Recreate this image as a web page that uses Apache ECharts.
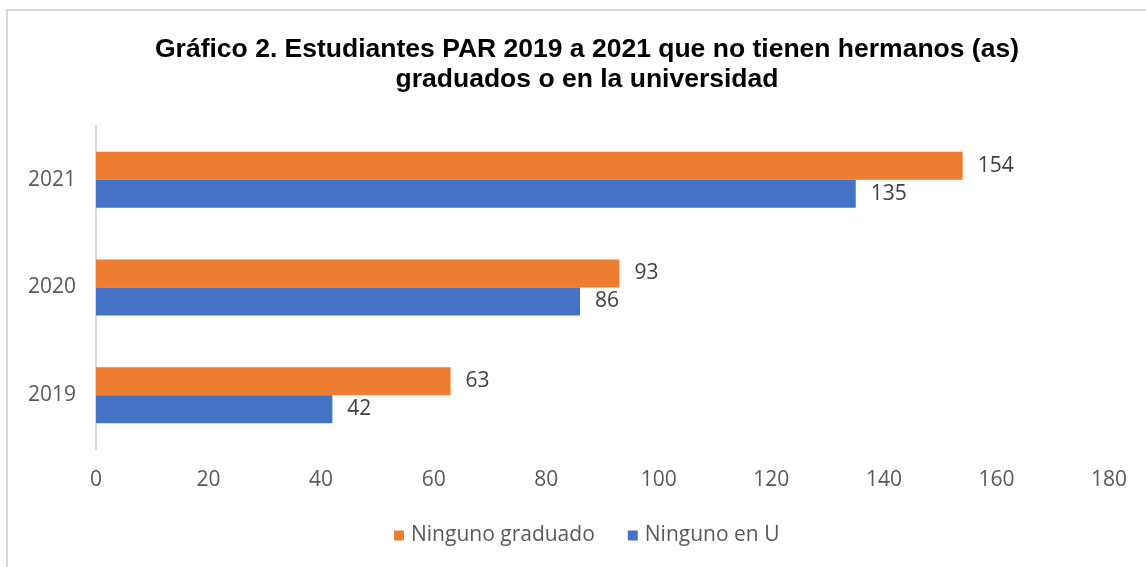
<!DOCTYPE html>
<html>
<head>
<meta charset="utf-8">
<script src="https://cdn.jsdelivr.net/npm/echarts@6/dist/echarts.min.js"></script>
<style>
  html, body { margin: 0; padding: 0; background: #fff; }
  #chartPar { width: 1146px; height: 567px; }
</style>
</head>
<body>
<div id="chartPar"></div>
<script>
// datos del gráfico
var years = ['2019', '2020', '2021'];
var ningunoGraduado = [63, 93, 154];
var ningunoEnU = [42, 86, 135];
var xTicks = { min: 0, max: 180, step: 20 };

var chartPar = echarts.init(document.getElementById('chartPar'));
var labelFont = 'Open Sans';

var option = {
  animation: false,
  title: {
    text: 'Gráfico 2. Estudiantes PAR 2019 a 2021 que no tienen hermanos (as)\ngraduados o en la universidad',
    left: 582,
    top: 30,
    textAlign: 'center',
    textStyle: {
      fontFamily: 'Liberation Sans',
      fontWeight: 'bold',
      fontSize: 26.5,
      lineHeight: 30,
      color: '#000'
    }
  },
  graphic: [{
    type: 'rect',
    shape: { x: 7, y: 10, width: 1160, height: 600 },
    style: { fill: 'none', stroke: '#d9d9d9', lineWidth: 2 },
    silent: true
  }],
  legend: {
    data: ['Ninguno graduado', 'Ninguno en U'],
    left: 394,
    top: 525,
    padding: 0,
    icon: 'rect',
    itemWidth: 10,
    itemHeight: 10,
    itemGap: 33,
    textStyle: { fontFamily: labelFont, fontSize: 21, color: '#595959', padding: [0, 0, 0, 2] }
  },
  grid: {
    left: 96,
    right: 37,
    top: 126,
    bottom: 118,
    containLabel: false
  },
  xAxis: {
    type: 'value',
    min: xTicks.min,
    max: xTicks.max,
    interval: xTicks.step,
    axisLine: { show: false },
    axisTick: { show: false },
    splitLine: { show: false },
    axisLabel: {
      margin: 21,
      fontFamily: labelFont,
      fontSize: 21,
      color: '#595959'
    }
  },
  yAxis: {
    type: 'category',
    data: years,
    axisLine: { show: true, lineStyle: { color: '#d9d9d9', width: 2 } },
    axisTick: { show: false },
    axisLabel: {
      margin: 20,
      fontFamily: labelFont,
      fontSize: 21,
      color: '#595959'
    }
  },
  series: [
    {
      name: 'Ninguno graduado',
      type: 'bar',
      data: ningunoGraduado,
      barGap: '0%',
      barCategoryGap: '48%',
      itemStyle: { color: '#ed7d31' },
      label: {
        show: true,
        position: 'right',
        distance: 15,
        fontFamily: labelFont,
        fontSize: 21,
        color: '#404040'
      }
    },
    {
      name: 'Ninguno en U',
      type: 'bar',
      data: ningunoEnU,
      barGap: '0%',
      barCategoryGap: '48%',
      itemStyle: { color: '#4472c4' },
      label: {
        show: true,
        position: 'right',
        distance: 15,
        fontFamily: labelFont,
        fontSize: 21,
        color: '#404040'
      }
    }
  ]
};
chartPar.setOption(option);
</script>
</body>
</html>
